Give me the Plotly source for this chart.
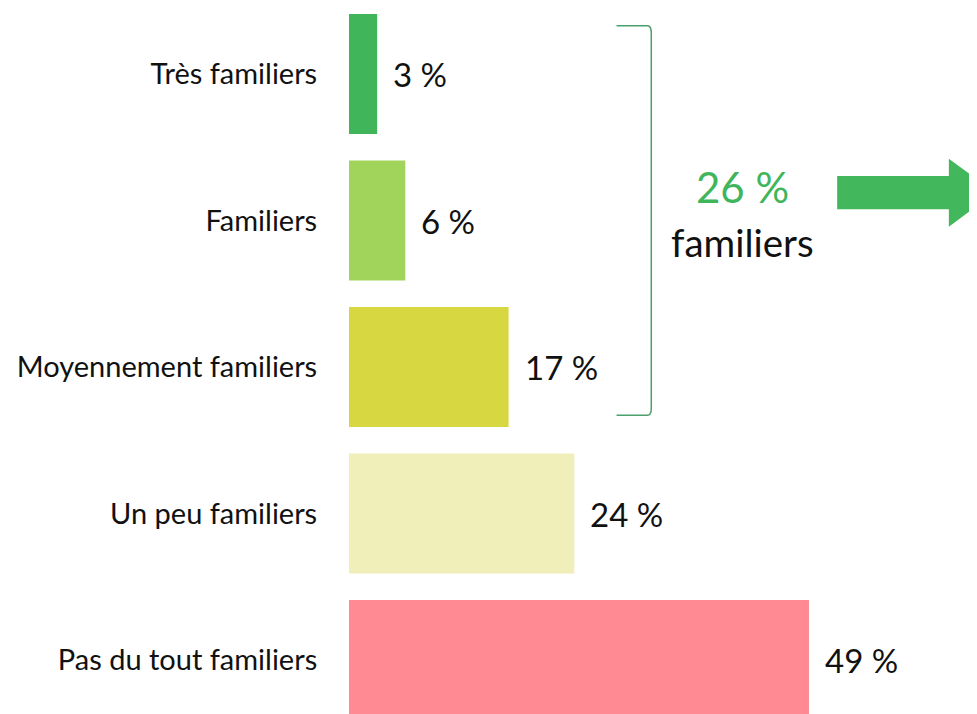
import plotly.graph_objects as go

categories = ["Très familiers", "Familiers", "Moyennement familiers", "Un peu familiers", "Pas du tout familiers"]
values = [3, 6, 17, 24, 49]
colors = ["#41b55a", "#a1d45a", "#d7d742", "#f0efba", "#ff8a93"]
value_labels = ["3 %", "6 %", "17 %", "24 %", "49 %"]
group_count = 3
group_label = "familiers"

FONT = "Lato, 'Open Sans', sans-serif"

fig = go.Figure()
fig.add_trace(go.Bar(
    y=list(range(len(categories))), x=values, orientation="h",
    marker=dict(color=colors, line=dict(width=0)),
    width=0.82, hoverinfo="skip",
))

for i, (v, t) in enumerate(zip(values, value_labels)):
    fig.add_annotation(x=v, y=i, text=t, showarrow=False, xanchor="left",
                       xshift=14, font=dict(family=FONT, size=33, color="#111111"))

group_total = sum(values[:group_count])

# bracket spanning first group
bx0, bx1 = 28.5, 32.2
by0, by1 = -0.33, group_count - 1 + 0.33
r = 0.05
fig.add_shape(type="path", xref="x", yref="y",
              path=f"M {bx0},{by0} L {bx1-0.4},{by0} Q {bx1},{by0} {bx1},{by0+r} "
                   f"L {bx1},{by1-r} Q {bx1},{by1} {bx1-0.4},{by1} L {bx0},{by1}",
              line=dict(color="#4a9f6a", width=1.5))

fig.add_annotation(x=41.9, y=0.955, text=f"{group_total} %", showarrow=False,
                   yanchor="bottom", font=dict(family=FONT, size=42, color="#3fb55c"))
fig.add_annotation(x=41.9, y=0.975, text=group_label, showarrow=False,
                   yanchor="top", font=dict(family=FONT, size=38.5, color="#111111"))

# arrow
ax0, ax1, ax2 = 52.0, 63.9, 68.8
bh, hh = 0.113, 0.232
acy = 0.81
fig.add_shape(type="path", xref="x", yref="y",
              path=f"M {ax0},{acy-bh} L {ax1},{acy-bh} L {ax1},{acy-hh} L {ax2},{acy} "
                   f"L {ax1},{acy+hh} L {ax1},{acy+bh} L {ax0},{acy+bh} Z",
              fillcolor="#43b75c", line=dict(width=0))

fig.update_layout(
    width=977, height=714,
    margin=dict(l=341, r=0, t=0, b=0),
    plot_bgcolor="white", paper_bgcolor="white",
    showlegend=False,
    xaxis=dict(range=[0, 67.75], visible=False),
    yaxis=dict(range=[4.423, -0.4505], tickmode="array",
               tickvals=list(range(len(categories))), ticktext=categories,
               showgrid=False, zeroline=False, showline=False,
               ticks="outside", ticklen=25, tickcolor="rgba(0,0,0,0)",
               tickfont=dict(family=FONT, size=29, color="#111111")),
)

fig.write_html("out.html")
